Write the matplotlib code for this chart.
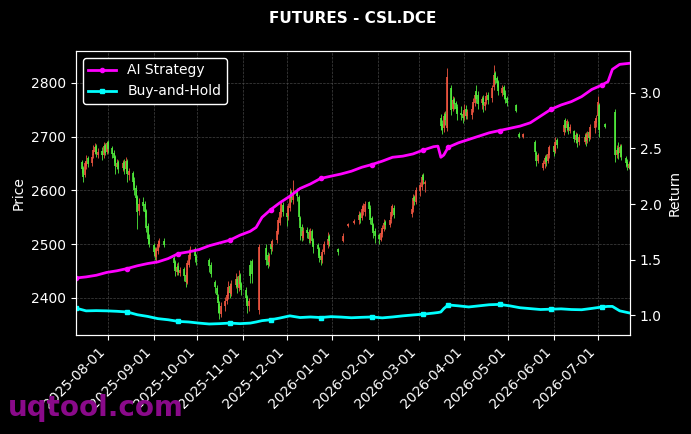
import numpy as np
import pandas as pd
import matplotlib
matplotlib.use('Agg')
import matplotlib.pyplot as plt
import matplotlib.dates as mdates

nan = np.nan

# daily candles, one row per week (Mon..Fri), from 2025-07-14
candle_dates = pd.bdate_range('2025-07-14', '2026-07-24')

opens = [
    2652, 2642, 2628, 2645, 2660,   # Jul 14
    2650, 2665, 2672, 2682, 2665,
    2674, 2666, 2684, 2672, 2690,
    2678, 2670, 2662, 2644, 2652,   # Aug 4
    2642, 2652, 2640, 2654, 2628,
    2632, 2618, 2604, 2588, 2562,
    2578, 2574, 2562, 2534, 2512,
    2498, 2488, 2476, 2488, 2496,   # Sep 1
    2506, nan, nan, nan, nan,
    2474, 2466, 2448, 2460, 2446,
    2454, 2442, 2428, 2462, 2478,
    2490, 2476, nan, nan, nan,
    nan, nan, nan, 2470, 2462,      # Oct 6
    2430, 2418, 2402, 2388, 2370,
    2384, 2394, 2404, 2422, 2408,
    2424, 2436, 2418, 2442, 2426,
    2414, 2402, 2384, 2462, 2468,   # Nov 3
    nan, nan, 2378, nan, nan,
    2492, 2480, 2466, 2500, 2494,
    2508, 2522, 2540, 2556, 2572,
    2558, 2552, 2568, 2596, 2582,   # Dec 1
    2598, 2588, 2548, 2532, 2512,
    2526, 2522, 2508, 2524, 2506,
    2498, 2490, 2478, 2470, 2486,
    2498, 2515, nan, nan, nan,
    2490, nan, nan, 2506, nan,      # Jan 5
    2534, nan, nan, nan, 2540,
    2545, 2556, 2548, 2562, 2560,
    2578, 2568, 2548, 2536, 2524,
    2516, 2508, 2518, 2528, 2542,   # Feb 2
    2536, 2546, 2558, 2568, nan,
    nan, nan, nan, nan, nan,
    nan, 2556, 2566, 2588, 2578,
    2598, 2606, 2628, 2612, nan,    # Mar 2
    nan, nan, nan, nan, nan,
    2735, 2724, 2715, 2742, 2715,
    2790, 2752, 2770, 2762, 2754,
    2744, 2742, 2736, 2752, 2738,
    2740, 2752, 2762, 2785, 2778,   # Apr 6
    2762, 2772, 2756, 2766, 2778,
    2772, 2792, 2818, 2808, 2802,
    2780, 2792, 2780, 2772, nan,
    nan, nan, 2758, nan, 2705,      # May 4
    2700, nan, nan, nan, nan,
    nan, 2690, 2670, 2654, nan,
    2642, 2648, 2662, 2654, 2666,
    2682, 2674, 2694, nan, nan,     # Jun 1
    2708, 2730, 2716, 2724, 2710,
    2710, 2694, 2704, 2690, nan,
    2690, 2702, 2694, 2708, 2700,
    2716, 2726, 2738, 2758, nan,
    2724, nan, nan, nan, nan,       # Jul 6
    2745, 2666, 2678, 2670, 2682,
    2660, 2652, 2642, 2650, nan,
]

highs = [
    2656, 2645, 2655, 2665, 2664,
    2668, 2684, 2688, 2686, 2678,
    2680, 2690, 2688, 2692, 2694,
    2682, 2675, 2666, 2658, 2656,
    2656, 2658, 2662, 2658, 2642,
    2636, 2625, 2610, 2592, 2585,
    2588, 2580, 2566, 2540, 2518,
    2502, 2494, 2495, 2508, 2512,
    2512, nan, nan, nan, nan,
    2478, 2470, 2465, 2466, 2458,
    2458, 2448, 2470, 2490, 2496,
    2494, 2482, nan, nan, nan,
    nan, nan, nan, 2474, 2466,
    2434, 2424, 2408, 2395, 2392,
    2402, 2412, 2432, 2428, 2434,
    2446, 2440, 2452, 2446, 2430,
    2420, 2406, 2400, 2470, 2472,
    nan, nan, 2501, nan, nan,
    2500, 2486, 2484, 2506, 2510,
    2530, 2550, 2568, 2582, 2578,
    2565, 2576, 2605, 2600, 2620,
    2605, 2592, 2552, 2538, 2532,
    2532, 2528, 2530, 2528, 2512,
    2502, 2494, 2482, 2490, 2506,
    2522, 2518, nan, nan, nan,
    2492, nan, nan, 2520, nan,
    2540, nan, nan, nan, 2546,
    2562, 2560, 2572, 2576, 2581,
    2581, 2572, 2552, 2540, 2530,
    2520, 2526, 2536, 2546, 2545,
    2550, 2566, 2575, 2572, nan,
    nan, nan, nan, nan, nan,
    nan, 2570, 2594, 2592, 2606,
    2616, 2631, 2632, 2620, nan,
    nan, nan, nan, nan, nan,
    2742, 2730, 2745, 2748, 2827,
    2796, 2776, 2774, 2766, 2760,
    2756, 2748, 2760, 2758, 2752,
    2758, 2772, 2782, 2795, 2784,
    2776, 2778, 2770, 2782, 2782,
    2796, 2833, 2822, 2812, 2806,
    2795, 2796, 2786, 2776, nan,
    nan, nan, 2761, nan, 2708,
    2707, nan, nan, nan, nan,
    nan, 2694, 2674, 2670, nan,
    2656, 2666, 2668, 2674, 2685,
    2686, 2700, 2698, nan, nan,
    2726, 2734, 2732, 2728, 2724,
    2713, 2708, 2706, 2704, nan,
    2706, 2708, 2710, 2710, 2724,
    2734, 2740, 2776, 2762, nan,
    2726, nan, nan, nan, nan,
    2751, 2684, 2690, 2686, 2686,
    2663, 2658, 2655, 2652, nan,
]

lows = [
    2632, 2615, 2625, 2640, 2644,
    2645, 2660, 2668, 2662, 2660,
    2656, 2660, 2665, 2668, 2670,
    2660, 2652, 2630, 2640, 2632,
    2636, 2630, 2635, 2615, 2620,
    2610, 2592, 2575, 2528, 2555,
    2562, 2550, 2522, 2500, 2494,
    2478, 2470, 2465, 2482, 2494,
    2494, nan, nan, nan, nan,
    2455, 2440, 2442, 2442, 2440,
    2432, 2420, 2425, 2458, 2472,
    2466, 2462, nan, nan, nan,
    nan, nan, nan, 2448, 2438,
    2410, 2398, 2372, 2360, 2365,
    2375, 2388, 2398, 2400, 2404,
    2418, 2410, 2412, 2420, 2405,
    2392, 2372, 2375, 2428, 2428,
    nan, nan, 2370, nan, nan,
    2462, 2456, 2460, 2482, 2488,
    2502, 2518, 2535, 2550, 2552,
    2534, 2545, 2562, 2578, 2575,
    2580, 2545, 2508, 2506, 2508,
    2512, 2502, 2502, 2498, 2484,
    2480, 2466, 2462, 2465, 2482,
    2492, 2496, nan, nan, nan,
    2480, nan, nan, 2503, nan,
    2532, nan, nan, nan, 2538,
    2538, 2540, 2544, 2555, 2552,
    2558, 2538, 2526, 2512, 2502,
    2501, 2505, 2514, 2524, 2528,
    2532, 2540, 2552, 2548, nan,
    nan, nan, nan, nan, nan,
    nan, 2551, 2560, 2572, 2574,
    2590, 2600, 2612, 2596, nan,
    nan, nan, nan, nan, nan,
    2712, 2705, 2708, 2722, 2710,
    2740, 2748, 2752, 2746, 2730,
    2730, 2725, 2730, 2732, 2732,
    2733, 2746, 2756, 2762, 2752,
    2752, 2745, 2750, 2760, 2760,
    2765, 2786, 2798, 2792, 2778,
    2776, 2770, 2762, 2757, nan,
    nan, nan, 2745, nan, 2697,
    2698, nan, nan, nan, nan,
    nan, 2668, 2645, 2650, nan,
    2638, 2642, 2645, 2650, 2660,
    2663, 2670, 2678, nan, nan,
    2702, 2708, 2710, 2705, 2706,
    2690, 2688, 2680, 2684, nan,
    2686, 2683, 2688, 2692, 2696,
    2707, 2718, 2732, 2700, nan,
    2716, nan, nan, nan, nan,
    2652, 2660, 2658, 2662, 2656,
    2644, 2638, 2640, 2636, nan,
]

closes = [
    2640, 2625, 2650, 2655, 2648,
    2662, 2675, 2680, 2668, 2672,
    2665, 2682, 2670, 2688, 2676,
    2668, 2660, 2645, 2650, 2640,
    2650, 2638, 2655, 2630, 2635,
    2615, 2600, 2585, 2560, 2575,
    2570, 2560, 2530, 2510, 2500,
    2485, 2478, 2490, 2500, 2505,
    2498, nan, nan, nan, nan,
    2465, 2450, 2458, 2448, 2452,
    2440, 2430, 2465, 2480, 2488,
    2478, 2470, nan, nan, nan,
    nan, nan, nan, 2460, 2445,
    2420, 2405, 2390, 2372, 2385,
    2395, 2405, 2420, 2410, 2425,
    2435, 2420, 2440, 2425, 2415,
    2400, 2385, 2395, 2440, 2445,
    nan, nan, 2495, nan, nan,
    2470, 2462, 2478, 2490, 2505,
    2525, 2545, 2560, 2575, 2560,
    2550, 2570, 2590, 2585, 2595,
    2590, 2550, 2530, 2515, 2525,
    2520, 2510, 2525, 2505, 2495,
    2490, 2475, 2470, 2485, 2500,
    2510, 2505, nan, nan, nan,
    2485, nan, nan, 2515, nan,
    2538, nan, nan, nan, 2543,
    2555, 2545, 2565, 2570, 2575,
    2565, 2545, 2535, 2520, 2515,
    2510, 2520, 2530, 2540, 2535,
    2545, 2560, 2570, 2555, nan,
    nan, nan, nan, nan, nan,
    nan, 2565, 2585, 2580, 2600,
    2610, 2625, 2620, 2615, nan,
    nan, nan, nan, nan, nan,
    2720, 2712, 2738, 2730, 2810,
    2750, 2768, 2760, 2752, 2742,
    2740, 2735, 2750, 2738, 2745,
    2752, 2765, 2778, 2770, 2760,
    2770, 2758, 2764, 2775, 2768,
    2790, 2815, 2805, 2800, 2785,
    2790, 2778, 2770, 2762, nan,
    nan, nan, 2748, nan, 2700,
    2704, nan, nan, nan, nan,
    nan, 2672, 2655, 2665, nan,
    2650, 2660, 2652, 2668, 2680,
    2672, 2690, 2685, nan, nan,
    2722, 2715, 2728, 2712, 2718,
    2695, 2702, 2688, 2700, nan,
    2700, 2692, 2705, 2698, 2718,
    2728, 2735, 2765, 2712, nan,
    2718, nan, nan, nan, nan,
    2665, 2675, 2668, 2680, 2662,
    2650, 2645, 2648, 2640, nan,
]

# cumulative returns (right axis)
ret_dates = pd.to_datetime([
    '2025-07-10', '2025-07-17', '2025-07-24', '2025-07-31', '2025-08-07',
    '2025-08-14', '2025-08-21', '2025-08-28', '2025-09-04', '2025-09-11',
    '2025-09-18', '2025-09-25', '2025-10-02', '2025-10-09', '2025-10-16',
    '2025-10-23', '2025-10-30', '2025-11-06', '2025-11-10', '2025-11-14',
    '2025-11-20', '2025-11-26', '2025-12-03', '2025-12-10', '2025-12-17',
    '2025-12-24', '2025-12-31', '2026-01-07', '2026-01-14', '2026-01-21',
    '2026-01-28', '2026-02-04', '2026-02-11', '2026-02-18', '2026-02-25',
    '2026-03-04', '2026-03-11', '2026-03-14', '2026-03-16', '2026-03-18',
    '2026-03-21', '2026-03-28', '2026-04-04', '2026-04-11', '2026-04-18',
    '2026-04-25', '2026-05-02', '2026-05-09', '2026-05-16', '2026-05-23',
    '2026-05-30', '2026-06-06', '2026-06-13', '2026-06-20', '2026-06-27',
    '2026-07-04', '2026-07-08', '2026-07-11', '2026-07-16', '2026-07-23',
])

ai_return = [
    1.335, 1.345, 1.36, 1.385, 1.40, 1.42, 1.445, 1.465, 1.48, 1.51,
    1.555, 1.57, 1.59, 1.625, 1.65, 1.675, 1.72, 1.755, 1.79, 1.88,
    1.95, 2.01, 2.07, 2.14, 2.18, 2.23, 2.25, 2.27, 2.295, 2.33,
    2.355, 2.385, 2.42, 2.43, 2.45, 2.485, 2.515, 2.52, 2.42, 2.44,
    2.51, 2.55, 2.58, 2.61, 2.64, 2.66, 2.68, 2.70, 2.73, 2.79,
    2.85, 2.89, 2.92, 2.965, 3.03, 3.07, 3.10, 3.21, 3.255, 3.265,
]

bh_return = [
    1.065, 1.04, 1.042, 1.04, 1.036, 1.03, 1.005, 0.99, 0.97, 0.96,
    0.945, 0.94, 0.93, 0.922, 0.925, 0.93, 0.925, 0.93, 0.94, 0.952,
    0.96, 0.975, 0.995, 0.98, 0.985, 0.98, 0.988, 0.984, 0.978, 0.982,
    0.985, 0.977, 0.985, 0.995, 1.003, 1.01, 1.02, 1.025, 1.03, 1.06,
    1.093, 1.085, 1.075, 1.085, 1.095, 1.098, 1.085, 1.068, 1.06, 1.052,
    1.055, 1.058, 1.052, 1.05, 1.062, 1.075, 1.08, 1.08, 1.04, 1.02,
]

UP = '#ee5540'     # red = up (CN convention)
DOWN = '#50ec3c'   # green = down

fig = plt.figure(figsize=(6.91, 4.34), dpi=100, facecolor='black')
ax = fig.add_axes([0.1097, 0.2281, 0.8020, 0.6544], facecolor='black')

o = np.array(opens, dtype=float)
h = np.array(highs, dtype=float)
l = np.array(lows, dtype=float)
c = np.array(closes, dtype=float)
ok = ~np.isnan(c)
d = candle_dates[ok]
o, h, l, c = o[ok], h[ok], l[ok], c[ok]
cols = [UP if cc >= oo else DOWN for oo, cc in zip(o, c)]

# wicks + bodies
ax.vlines(d, l, h, colors=cols, linewidth=0.6, zorder=2)
ax.vlines(d, np.minimum(o, c), np.maximum(o, c), colors=cols, linewidth=1.2, zorder=2)

ax.set_ylim(2331, 2859)
ax.set_xlim(ret_dates[0], ret_dates[-1])
ax.set_ylabel('Price', color='white', fontsize=10)
ax.grid(True, color='#555555', linestyle='--', linewidth=0.5, alpha=0.8)
ax.set_axisbelow(True)

ax.xaxis.set_major_locator(mdates.MonthLocator())
ax.xaxis.set_major_formatter(mdates.DateFormatter('%Y-%m-%d'))
plt.setp(ax.get_xticklabels(), rotation=45, ha='right')

ax2 = ax.twinx()
ax2.plot(ret_dates, ai_return, color='#ff00ff', linewidth=2.0,
         marker='o', markersize=3, markevery=5, label='AI Strategy')
ax2.plot(ret_dates, bh_return, color='#00ffff', linewidth=2.0,
         marker='s', markersize=3, markevery=5, label='Buy-and-Hold')
ax2.set_ylim(0.823, 3.375)
ax2.set_ylabel('Return', color='white', fontsize=10)

for a in (ax, ax2):
    a.tick_params(colors='white', labelsize=10)
    for s in a.spines.values():
        s.set_color('white')

leg = ax2.legend(loc='upper left', facecolor='black', edgecolor='white',
                 fontsize=10, framealpha=1.0)
for t in leg.get_texts():
    t.set_color('white')

ax.set_title('FUTURES - CSL.DCE', color='white', fontsize=11,
             fontweight='bold', pad=20)

# watermark
fig.text(0.012, 0.042, 'uqtool.com', fontsize=20, fontweight='bold',
         color='#8a0a8a', va='baseline', zorder=10)

fig.savefig('out.png', dpi=100, facecolor='black')
